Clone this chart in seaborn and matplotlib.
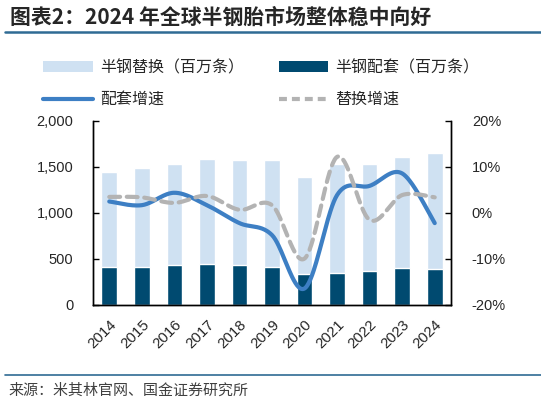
import numpy as np
import pandas as pd
import matplotlib
matplotlib.use("Agg")
import matplotlib.pyplot as plt
from matplotlib.patches import Patch
from matplotlib.lines import Line2D
from matplotlib.ticker import FuncFormatter, FixedLocator
import seaborn as sns

years = ["2014", "2015", "2016", "2017", "2018", "2019",
         "2020", "2021", "2022", "2023", "2024"]
oe_units = [410, 417, 435, 446, 435, 410, 340, 348, 373, 405, 395]
replacement_units = [1036, 1073, 1098, 1139, 1146, 1164, 1051, 1187, 1164, 1205, 1252]
oe_growth = [2.5, 1.7, 4.4, 1.7, -2.2, -4.8, -16.4, 3.9, 5.9, 8.6, -2.2]
replacement_growth = [3.5, 3.4, 2.2, 3.7, 0.7, 1.7, -9.9, 12.2, -1.5, 3.9, 3.4]

LIGHT = "#cfe1f2"
DARK = "#004a70"
BLUE = "#3d7fc4"
GRAY = "#b3b3b3"
RULE = "#2f6b94"


def smooth(xs, ys, n=40):
    # excel-like smoothed line: catmull-rom through every point
    px = np.concatenate([[xs[0]], xs, [xs[-1]]]).astype(float)
    py = np.concatenate([[ys[0]], ys, [ys[-1]]]).astype(float)
    t = np.linspace(0, 1, n)[:, None]
    out = []
    for i in range(1, len(px) - 2):
        p = [np.array([px[j], py[j]]) for j in range(i - 1, i + 3)]
        seg = 0.5 * (2 * p[1] + (-p[0] + p[2]) * t
                     + (2 * p[0] - 5 * p[1] + 4 * p[2] - p[3]) * t ** 2
                     + (-p[0] + 3 * p[1] - 3 * p[2] + p[3]) * t ** 3)
        out.append(seg if i == 1 else seg[1:])
    out = np.vstack(out)
    return out[:, 0], out[:, 1]


df = pd.DataFrame({
    "year": years,
    "oe": oe_units,
    "total": np.array(oe_units) + np.array(replacement_units),
})

sns.set_style("white")
plt.rcParams["font.family"] = ["Liberation Sans", "Noto Sans CJK SC"]

fig = plt.figure(figsize=(5.41, 4.03), dpi=100)
ax = fig.add_axes([93 / 541, 1 - 305 / 403, 358 / 541, 184 / 403])

sns.barplot(data=df, x="year", y="total", color=LIGHT, saturation=1,
            width=0.48, errorbar=None, ax=ax)
sns.barplot(data=df, x="year", y="oe", color=DARK, saturation=1,
            width=0.48, errorbar=None, ax=ax)

ax.set_xlim(-0.5, len(years) - 0.5)
ax.set_ylim(0, 2000)
ax.set_yticks([0, 500, 1000, 1500, 2000])
ax.yaxis.set_major_formatter(FuncFormatter(lambda v, p: f"{v:,.0f}"))
ax.set_xlabel("")
ax.set_ylabel("")
ax.tick_params(axis="y", direction="in", length=4, width=1, color="black",
               labelsize=10.5, pad=14)
ax.tick_params(axis="x", which="major", length=0, labelsize=10.8, pad=9)
ax.xaxis.set_minor_locator(FixedLocator(np.arange(-0.5, len(years), 1)))
ax.tick_params(axis="x", which="minor", direction="in", length=4, width=1,
               color="black")
for lab in ax.get_xticklabels():
    lab.set_rotation(45)
    lab.set_ha("right")
    lab.set_va("top")
    lab.set_rotation_mode("anchor")

ax2 = ax.twinx()
ax2.set_ylim(-20, 20)
ax2.set_yticks([-20, -10, 0, 10, 20])
ax2.yaxis.set_major_formatter(FuncFormatter(lambda v, p: f"{v:.0f}%"))
ax2.tick_params(axis="y", direction="in", length=4, width=1, color="black",
                labelsize=10.5, pad=15)

xs = np.arange(len(years))
sx, sy = smooth(xs, oe_growth)
ax2.plot(sx, sy, color=BLUE, lw=3.0, solid_capstyle="round")
gx, gy = smooth(xs, replacement_growth)
ax2.plot(gx, gy, color=GRAY, lw=3.0, dashes=(2.6, 1.6), dash_capstyle="round")

for a in (ax, ax2):
    a.spines["top"].set_visible(False)
    for s in ("left", "right", "bottom"):
        a.spines[s].set_color("black")
        a.spines[s].set_linewidth(1)
    a.grid(False)

handles = [
    Patch(facecolor=LIGHT, edgecolor="none", label="半钢替换（百万条）"),
    Line2D([], [], color=BLUE, lw=3.0, label="配套增速"),
    Patch(facecolor=DARK, edgecolor="none", label="半钢配套（百万条）"),
    Line2D([], [], color=GRAY, lw=3.0, dashes=(1.9, 1.2), label="替换增速"),
]
fig.legend(handles=handles, ncol=2, loc="upper left",
           bbox_to_anchor=(43 / 541, 1 - 59 / 403), frameon=False,
           prop={"family": "Noto Sans CJK SC", "size": 11.5},
           handlelength=3.1, handletextpad=0.45, columnspacing=2.2,
           labelspacing=0.95, borderpad=0, borderaxespad=0)

fig.text(10 / 541, 1 - 17 / 403, "图表2：2024 年全球半钢胎市场整体稳中向好",
         family="Noto Sans CJK SC", fontsize=15, weight="bold",
         style="italic", va="center", ha="left")
fig.add_artist(Line2D([5 / 541, 1], [1 - 32 / 403] * 2, color=RULE, lw=1.8))
fig.add_artist(Line2D([5 / 541, 1], [1 - 375 / 403] * 2, color=RULE, lw=1.2))
fig.text(8 / 541, 1 - 391 / 403, "来源：米其林官网、国金证券研究所",
         family="Noto Sans CJK SC", fontsize=10.8, color="#404040",
         va="center", ha="left")

fig.savefig("out.png", dpi=100)
